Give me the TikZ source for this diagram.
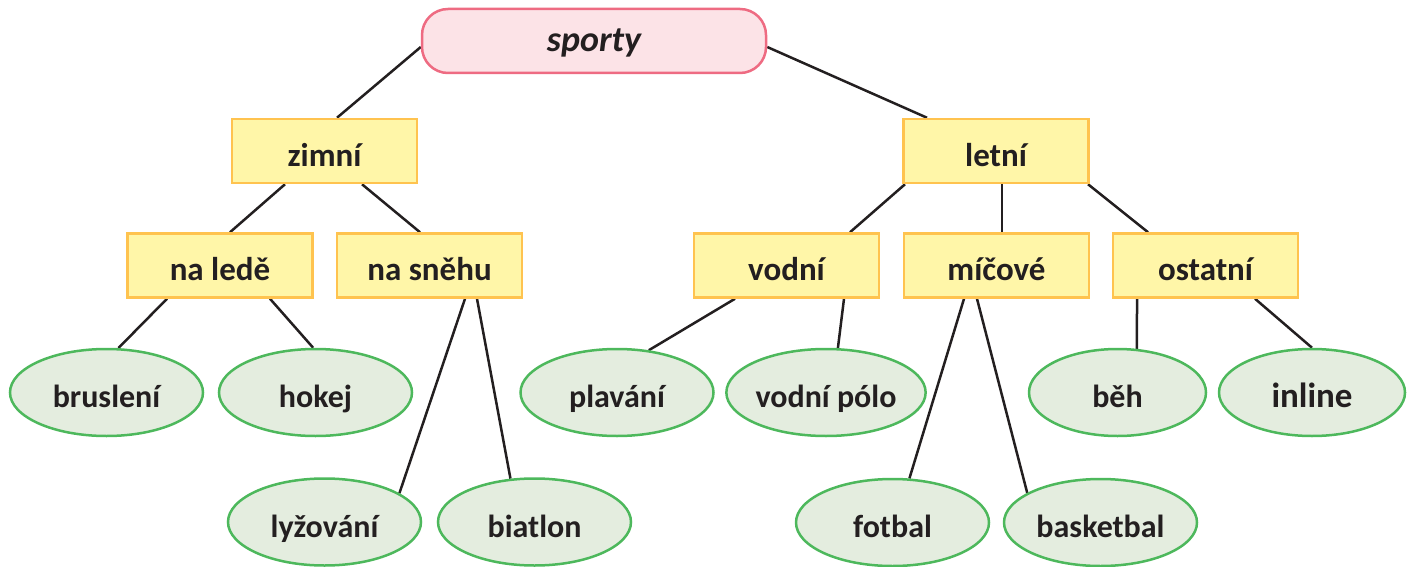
\documentclass[tikz,border=0pt]{standalone}
\usepackage{fontspec}
\setmainfont{Carlito}
\usetikzlibrary{shapes.geometric,backgrounds}
\definecolor{rootline}{HTML}{EE6B82}
\definecolor{rootfill}{HTML}{FCE3E7}
\definecolor{catline}{HTML}{FFC34F}
\definecolor{catfill}{HTML}{FFF6A8}
\definecolor{leafline}{HTML}{4DB85C}
\definecolor{leaffill}{HTML}{E4EDDF}
\definecolor{linkc}{HTML}{231F20}
\definecolor{txt}{HTML}{231F20}
\tikzset{
  root/.style={draw=rootline, fill=rootfill, line width=2.5pt, rounded corners=26pt,
    minimum width=344pt, minimum height=64pt, inner sep=0pt, text=txt,
    text height=22pt, text depth=0pt,
    font=\fontsize{36}{40}\selectfont\bfseries\itshape},
  cat/.style={draw=catline, fill=catfill, line width=2.5pt,
    minimum width=185pt, minimum height=64pt, inner sep=0pt, text=txt,
    text height=30pt, text depth=0pt,
    font=\fontsize{33}{38}\selectfont\bfseries},
  leaf/.style={ellipse, draw=leafline, fill=leaffill, line width=2.5pt,
    minimum width=193pt, minimum height=87pt, inner sep=0pt, text=txt,
    text height=30pt, text depth=0pt,
    font=\fontsize{32}{38}\selectfont\bfseries},
  link/.style={line width=2.5pt, draw=linkc}
}
\begin{document}
\begin{tikzpicture}[x=1pt,y=-1pt]
\useasboundingbox (0,0) rectangle (1418,567);
\node[root] (sporty) at (594,41) {sporty};
\node[cat] (zimni) at (324.5,151) {zimní};
\node[cat] (letni) at (996,151) {letní};
\node[cat] (nalede) at (220,265.5) {na ledě};
\node[cat] (nasnehu) at (429.5,265.5) {na sněhu};
\node[cat] (vodni) at (786.5,265.5) {vodní};
\node[cat] (micove) at (996.5,265.5) {míčové};
\node[cat] (ostatni) at (1205.5,265.5) {ostatní};
\node[leaf] (brusleni) at (106.5,392.5) {bruslení};
\node[leaf] (hokej) at (315.5,392.5) {hokej};
\node[leaf] (lyzovani) at (324.5,522) {lyžování};
\node[leaf] (biatlon) at (534.5,522) {biatlon};
\node[leaf] (plavani) at (617,392.5) {plavání};
\node[leaf] (vodnipolo) at (826,392.5) {vodní pólo};
\node[leaf] (fotbal) at (892.5,522.5) {fotbal};
\node[leaf] (basketbal) at (1100.5,522.5) {basketbal};
\node[leaf, minimum width=177pt] (beh) at (1117.5,392.5) {běh};
\node[leaf, minimum width=186pt, font=\fontsize{35}{40}\selectfont\bfseries] (inline) at (1312,392.5) {inline};
\begin{scope}[on background layer]
\draw[link] ([yshift=-6pt]sporty.west) -- ([xshift=12.5pt]zimni.north);
\draw[link] ([yshift=-6pt]sporty.east) -- ([xshift=-69pt]letni.north);
\draw[link] ([xshift=-39.5pt]zimni.south) -- ([xshift=10pt]nalede.north);
\draw[link] ([xshift=37.5pt]zimni.south) -- ([xshift=-9.5pt]nasnehu.north);
\draw[link] ([xshift=-91pt]letni.south) -- ([xshift=63.5pt]vodni.north);
\draw[link] ([xshift=6pt]letni.south) -- ([xshift=5.5pt]micove.north);
\draw[link] ([xshift=92pt]letni.south) -- ([xshift=-57.5pt]ostatni.north);
\draw[link] ([xshift=-53pt]nalede.south) -- (brusleni.75);
\draw[link] ([xshift=50pt]nalede.south) -- (hokej.93);
\draw[link] ([xshift=35.5pt]nasnehu.south) -- (lyzovani.21);
\draw[link] ([xshift=47.5pt]nasnehu.south) -- (biatlon.119);
\draw[link] ([xshift=-51.5pt]vodni.south) -- (plavani.53);
\draw[link] ([xshift=57.5pt]vodni.south) -- (vodnipolo.75);
\draw[link] ([xshift=-32.5pt]micove.south) -- (fotbal.69);
\draw[link] ([xshift=-19.5pt]micove.south) -- (basketbal.158);
\draw[link] ([xshift=-68.5pt]ostatni.south) -- (beh.66);
\draw[link] ([xshift=49.5pt]ostatni.south) -- (inline.90);
\end{scope}
\end{tikzpicture}
\end{document}
